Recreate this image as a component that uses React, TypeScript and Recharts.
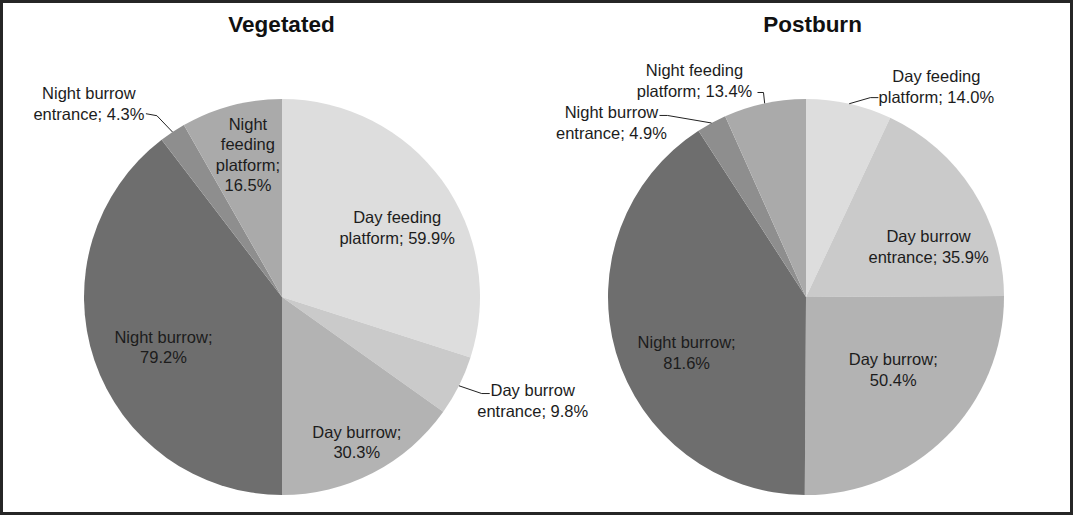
import React from "react";
import { PieChart, Pie, Cell } from "recharts";

// categories in clockwise order starting at 12 o'clock (day half on the right, night half on the left)
const CATEGORIES = [
  "Day feeding platform",
  "Day burrow entrance",
  "Day burrow",
  "Night burrow",
  "Night burrow entrance",
  "Night feeding platform",
];

// percentages as printed; each half (day / night) sums to ~100
const VEGETATED = [59.9, 9.8, 30.3, 79.2, 4.3, 16.5];
const POSTBURN = [14.0, 35.9, 50.4, 81.6, 4.9, 13.4];

const TITLES = ["Vegetated", "Postburn"];

const SLICE_COLORS = ["#dddddd", "#cacaca", "#b3b3b3", "#6e6e6e", "#8e8e8e", "#aaaaaa"];

const W = 1073;
const H = 515;
const R = 198;
const FONT = "'Liberation Sans', Arial, sans-serif";
const TEXT_COLOR = "#1c1c1c";

// label placement: r = distance / outer radius, da = angle offset from slice midAngle,
// lines = words per line, leader = points relative to label centre (drawn from slice edge)
type LabelLayout = { r: number; da: number; lines: number[]; leader?: [number, number][] };

const VEG_LABELS: LabelLayout[] = [
  { r: 0.68, da: -4.9, lines: [2, 2] },
  { r: 1.37, da: 4.2, lines: [2, 2], leader: [[-51, -7], [-43, -7]] },
  { r: 0.825, da: 0, lines: [2, 1] },
  { r: 0.65, da: 4.2, lines: [2, 1] },
  { r: 1.38, da: 11.4, lines: [2, 2], leader: [[68, 12], [57, 10]] },
  { r: 0.74, da: -1.4, lines: [1, 1, 1, 1] },
];

const POST_LABELS: LabelLayout[] = [
  { r: 1.25, da: -19.2, lines: [2, 2], leader: [[-66, 11], [-58, 11]] },
  { r: 0.67, da: -10.1, lines: [2, 2] },
  { r: 0.574, da: 5.2, lines: [2, 1] },
  { r: 0.665, da: 8.7, lines: [2, 1] },
  { r: 1.32, da: 19.6, lines: [2, 2], leader: [[56, -7], [48, -7]] },
  { r: 1.23, da: 15.2, lines: [2, 2], leader: [[69, 12], [63, 12]] },
];

const vegData = CATEGORIES.map((name, i) => ({ name, value: VEGETATED[i] }));
const postData = CATEGORIES.map((name, i) => ({ name, value: POSTBURN[i] }));

const RAD = Math.PI / 180;

const makeLabel = (layouts: LabelLayout[]) => (props: any) => {
  const { cx, cy, midAngle, outerRadius, index, name, value } = props;
  const lay = layouts[index];
  const ang = (midAngle + lay.da) * RAD;
  const lx = cx + outerRadius * lay.r * Math.cos(ang);
  const ly = cy - outerRadius * lay.r * Math.sin(ang);

  const words = `${name}; ${Number(value).toFixed(1)}%`.split(" ");
  const rows: string[] = [];
  let k = 0;
  lay.lines.forEach((n) => {
    rows.push(words.slice(k, k + n).join(" "));
    k += n;
  });
  const lh = 20.6;
  const y0 = ly - ((rows.length - 1) * lh) / 2;

  let leader = null;
  if (lay.leader) {
    const ex = cx + outerRadius * Math.cos(midAngle * RAD);
    const ey = cy - outerRadius * Math.sin(midAngle * RAD);
    const pts = [[ex, ey], ...lay.leader.map(([dx, dy]) => [lx + dx, ly + dy])];
    leader = (
      <polyline
        points={pts.map((p) => p.join(",")).join(" ")}
        fill="none"
        stroke="#222"
        strokeWidth={1}
      />
    );
  }

  return (
    <g key={`lbl-${index}`}>
      {leader}
      <text
        textAnchor="middle"
        fontFamily={FONT}
        fontSize={16.5}
        fill={TEXT_COLOR}
      >
        {rows.map((row, i) => (
          <tspan key={i} x={lx} y={y0 + i * lh} dy="0.36em">
            {row}
          </tspan>
        ))}
      </text>
    </g>
  );
};

export default function App() {
  return (
    <div style={{ position: "absolute", left: 0, top: 0, width: W, height: H, background: "#fff" }}>
      <PieChart width={W} height={H} margin={{ top: 0, right: 0, bottom: 0, left: 0 }}>
        <Pie
          data={vegData}
          dataKey="value"
          nameKey="name"
          cx={282}
          cy={297}
          outerRadius={R}
          startAngle={90}
          endAngle={-270}
          stroke="none"
          labelLine={false}
          label={makeLabel(VEG_LABELS)}
          isAnimationActive={false}
        >
          {vegData.map((d, i) => (
            <Cell key={d.name} fill={SLICE_COLORS[i]} />
          ))}
        </Pie>
        <Pie
          data={postData}
          dataKey="value"
          nameKey="name"
          cx={806}
          cy={297}
          outerRadius={R}
          startAngle={90}
          endAngle={-270}
          stroke="none"
          labelLine={false}
          label={makeLabel(POST_LABELS)}
          isAnimationActive={false}
        >
          {postData.map((d, i) => (
            <Cell key={d.name} fill={SLICE_COLORS[i]} />
          ))}
        </Pie>
      </PieChart>
      {/* titles */}
      <svg width={W} height={H} style={{ position: "absolute", left: 0, top: 0, pointerEvents: "none" }}>
        <text x={281.5} y={32} textAnchor="middle" fontFamily={FONT} fontWeight="bold" fontSize={22.5} fill="#111">
          {TITLES[0]}
        </text>
        <text x={812.5} y={32} textAnchor="middle" fontFamily={FONT} fontWeight="bold" fontSize={22.5} fill="#111">
          {TITLES[1]}
        </text>
      </svg>
      {/* frame */}
      <div
        style={{
          position: "absolute",
          left: 0,
          top: 0,
          width: W,
          height: H,
          boxSizing: "border-box",
          border: "3px solid #262626",
          pointerEvents: "none",
        }}
      />
    </div>
  );
}
